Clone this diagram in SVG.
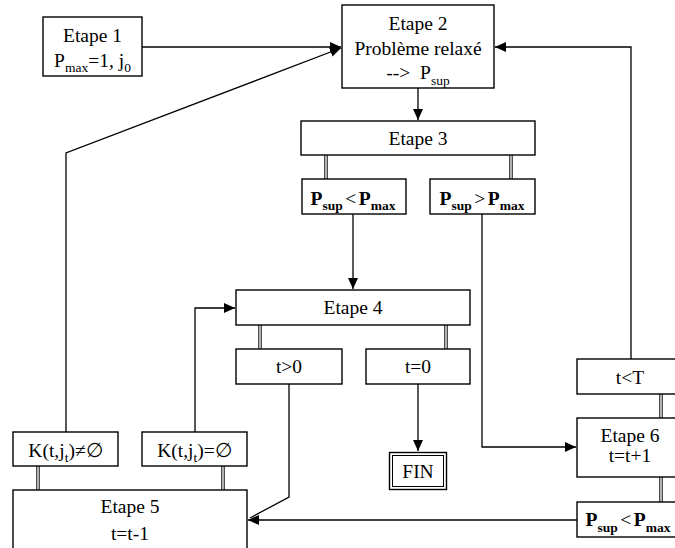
<svg xmlns="http://www.w3.org/2000/svg" width="675" height="548" viewBox="0 0 675 548">
  <style>
    .box { fill: #fff; stroke: #000; stroke-width: 1.4; }
    .lbl { font-family: "Liberation Serif", "Times New Roman", serif; font-size: 19.5px; fill: #000; text-anchor: middle; }
    .sub { font-size: 13.5px; }
    .b { font-weight: bold; }
    .op { font-weight: normal; }
    .wire { fill: none; stroke: #000; stroke-width: 1.3; }
    .dbl { fill: none; stroke: #000; stroke-width: 1; }
  </style>
  <defs>
    <marker id="arrow" markerUnits="userSpaceOnUse" markerWidth="12" markerHeight="10" refX="11" refY="5" orient="auto">
      <path d="M0,0 L11,5 L0,10 Z" fill="#000"/>
    </marker>
  </defs>
  <rect width="675" height="548" fill="#fff"/>

  <!-- connectors -->
  <g id="connectors">
    <path class="wire" d="M142,47 L341,47" marker-end="url(#arrow)"/>
    <path class="wire" d="M66,432 L66,153 L341,48" marker-end="url(#arrow)"/>
    <path class="wire" d="M631,359 L631,47 L495,47" marker-end="url(#arrow)"/>
    <path class="wire" d="M418,88 L418,120" marker-end="url(#arrow)"/>
    <path class="wire" d="M353,214 L353,289" marker-end="url(#arrow)"/>
    <path class="wire" d="M482,214 L482,447 L576,447" marker-end="url(#arrow)"/>
    <path class="wire" d="M418,384 L418,451" marker-end="url(#arrow)"/>
    <path class="wire" d="M289,384 L289,497 L250,518"/>
    <path class="wire" d="M195,432 L195,308 L235,308" marker-end="url(#arrow)"/>
    <path class="wire" d="M577,520 L248,520" marker-end="url(#arrow)"/>
    <!-- double links -->
    <path class="dbl" d="M324.8,155 V179 M327.2,155 V179"/>
    <path class="dbl" d="M509.8,155 V179 M512.2,155 V179"/>
    <path class="dbl" d="M258.8,325 V349 M261.2,325 V349"/>
    <path class="dbl" d="M444.8,325 V349 M447.2,325 V349"/>
    <path class="dbl" d="M36.8,466 V490 M39.2,466 V490"/>
    <path class="dbl" d="M221.8,466 V490 M224.2,466 V490"/>
    <path class="dbl" d="M659.8,394 V418 M662.2,394 V418"/>
    <path class="dbl" d="M659.8,477 V502 M662.2,477 V502"/>
  </g>

  <g id="etape1">
    <rect class="box" x="43" y="17" width="99" height="59"/>
    <text class="lbl" x="92.5" y="41.5">Etape 1</text>
    <text class="lbl" x="92.5" y="66.5">P<tspan class="sub" dy="5.5">max</tspan><tspan dy="-5.5">=1, j</tspan><tspan class="sub" dy="5.5">0</tspan></text>
  </g>

  <g id="etape2">
    <rect class="box" x="342" y="5" width="152" height="83"/>
    <text class="lbl" x="418" y="30">Etape 2</text>
    <text class="lbl" x="418" y="54.5">Problème relaxé</text>
    <text class="lbl" x="418" y="79">--&gt;&#160; P<tspan class="sub" dy="5.5">sup</tspan></text>
  </g>

  <g id="etape3">
    <rect class="box" x="301" y="121" width="234" height="34"/>
    <text class="lbl" x="418" y="145">Etape 3</text>
  </g>

  <g id="psup-lt-pmax-1">
    <rect class="box" x="302" y="179" width="104" height="35"/>
    <text class="lbl b" x="353" y="204.5">P<tspan class="sub" dy="5.5">sup</tspan><tspan class="op" dy="-5.5" dx="2.5">&lt;</tspan><tspan dx="2.5">P</tspan><tspan class="sub" dy="5.5">max</tspan></text>
  </g>

  <g id="psup-gt-pmax">
    <rect class="box" x="430" y="179" width="105" height="35"/>
    <text class="lbl b" x="482" y="204.5">P<tspan class="sub" dy="5.5">sup</tspan><tspan class="op" dy="-5.5" dx="2.5">&gt;</tspan><tspan dx="2.5">P</tspan><tspan class="sub" dy="5.5">max</tspan></text>
  </g>

  <g id="etape4">
    <rect class="box" x="236" y="290" width="234" height="35"/>
    <text class="lbl" x="353" y="314">Etape 4</text>
  </g>

  <g id="t-gt-0">
    <rect class="box" x="236" y="349" width="106" height="35"/>
    <text class="lbl" x="289" y="373">t&gt;0</text>
  </g>

  <g id="t-eq-0">
    <rect class="box" x="366" y="349" width="104" height="35"/>
    <text class="lbl" x="418" y="373">t=0</text>
  </g>

  <g id="fin">
    <rect class="box" x="389.5" y="452.5" width="57" height="37"/>
    <rect fill="none" stroke="#000" stroke-width="1" x="392.5" y="455.5" width="51" height="31"/>
    <text class="lbl" x="418" y="478">FIN</text>
  </g>

  <g id="k-nonempty">
    <rect class="box" x="13" y="432" width="105" height="34"/>
    <text class="lbl" x="65.5" y="456.5">K(t,j<tspan class="sub" dy="5">t</tspan><tspan dy="-5">)≠∅</tspan></text>
  </g>

  <g id="k-empty">
    <rect class="box" x="142" y="432" width="105" height="34"/>
    <text class="lbl" x="194.5" y="456.5">K(t,j<tspan class="sub" dy="5">t</tspan><tspan dy="-5">)=∅</tspan></text>
  </g>

  <g id="etape5">
    <rect class="box" x="13" y="490" width="234" height="70"/>
    <text class="lbl" x="130" y="513">Etape 5</text>
    <text class="lbl" x="130" y="540">t=t-1</text>
  </g>

  <g id="t-lt-T">
    <rect class="box" x="577" y="359" width="106" height="35"/>
    <text class="lbl" x="630" y="384">t&lt;T</text>
  </g>

  <g id="etape6">
    <rect class="box" x="577" y="418" width="106" height="59"/>
    <text class="lbl" x="630" y="442">Etape 6</text>
    <text class="lbl" x="630" y="462">t=t+1</text>
  </g>

  <g id="psup-lt-pmax-2">
    <rect class="box" x="577" y="502" width="106" height="35"/>
    <text class="lbl b" x="628" y="526">P<tspan class="sub" dy="5.5">sup</tspan><tspan class="op" dy="-5.5" dx="2.5">&lt;</tspan><tspan dx="2.5">P</tspan><tspan class="sub" dy="5.5">max</tspan></text>
  </g>
</svg>
